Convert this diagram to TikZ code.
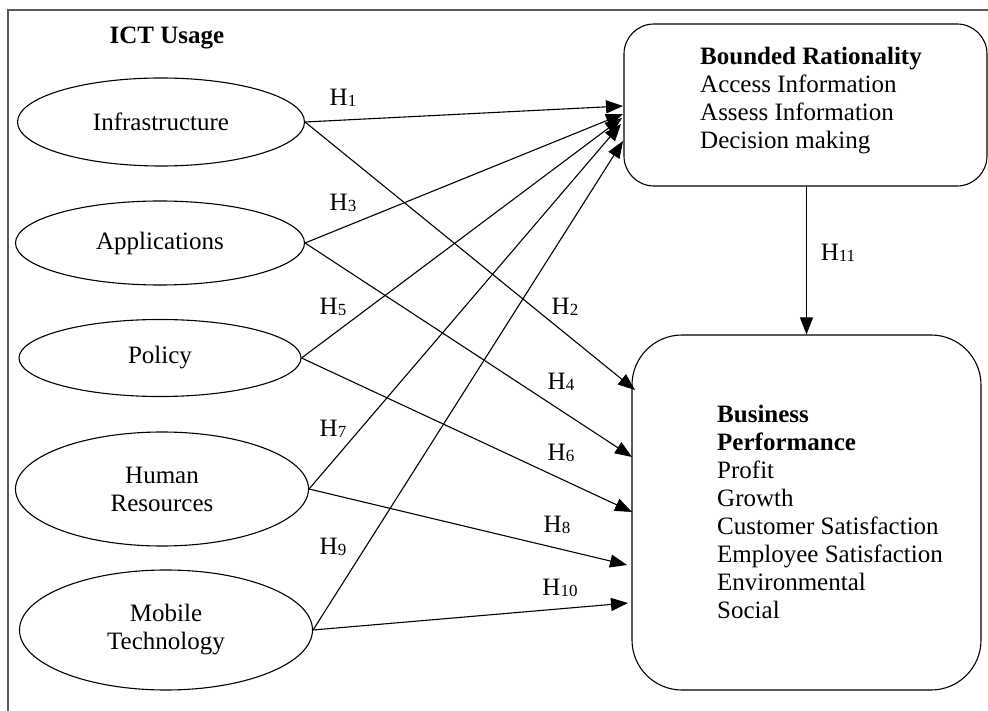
\documentclass[tikz,border=0pt]{standalone}
\usepackage{fontspec}
\setmainfont{Liberation Serif}
\usetikzlibrary{shapes.geometric,arrows.meta,calc}
\newcommand\Hyp[1]{H\raisebox{-1pt}{\fontsize{17}{17}\selectfont #1}}
\begin{document}
\begin{tikzpicture}[x=1pt,y=-1pt,
  every node/.style={font=\fontsize{25}{28}\selectfont, inner sep=0pt},
  ell/.style={draw, ellipse, line width=1.1pt, align=center},
  rbox/.style={draw, rectangle, line width=1.1pt},
  txt/.style={anchor=north west, align=left},
  arr/.style={line width=1.1pt, -{Triangle[length=17pt,width=13pt]}},
  frame/.style={line width=1.8pt, draw=black!65}]
\useasboundingbox (0,0) rectangle (988,711);
\draw[frame] (8,711) -- (8,10) -- (988,10);

\node[anchor=base, font=\fontsize{25}{28}\selectfont\bfseries] (ict) at (167,44) {ICT Usage};

\node[ell, minimum width=287pt, minimum height=88pt] (inf) at (161,122) {Infrastructure};
\node[ell, minimum width=289pt, minimum height=84pt] (app) at (160,243) {Applications};
\node[ell, minimum width=282pt, minimum height=77pt] (pol) at (160,358) {Policy};
\node[ell, minimum width=293pt, minimum height=114pt] (hr) at (162,489) {Human\\Resources};
\node[ell, minimum width=293pt, minimum height=120pt] (mob) at (166,630) {Mobile\\Technology};

\node[rbox, rounded corners=30pt, minimum width=363pt, minimum height=162pt] (br) at (805.5,105) {};
\node[txt] (brt) at (700,47) {\textbf{Bounded Rationality}\\Access Information\\Assess Information\\Decision making};

\node[rbox, rounded corners=50pt, minimum width=349pt, minimum height=355pt] (bp) at (806.5,512.5) {};
\node[txt] (bpt) at (717,405) {\textbf{Business}\\\textbf{Performance}\\Profit\\Growth\\Customer Satisfaction\\Employee Satisfaction\\Environmental\\Social};

% arrow targets
\coordinate (t1) at (623,106);
\coordinate (t3) at (623,114);
\coordinate (t5) at (622,118);
\coordinate (t7) at (621,124);
\coordinate (t9) at (623,141);
\coordinate (t2) at (635,390);
\coordinate (t4) at (632,457);
\coordinate (t6) at (632,512);
\coordinate (t8) at (627,565);
\coordinate (t10) at (628,603);

\draw[arr] (inf.east) -- (t1);
\draw[arr] (app.east) -- (t3);
\draw[arr] (pol.east) -- (t5);
\draw[arr] (hr.east) -- (t7);
\draw[arr] (mob.east) -- (t9);
\draw[arr] (inf.east) -- (t2);
\draw[arr] (app.east) -- (t4);
\draw[arr] (pol.east) -- (t6);
\draw[arr] (hr.east) -- (t8);
\draw[arr] (mob.east) -- (t10);
\draw[arr] (br.south -| bp.north) -- (bp.north);

\node (h1) at (343,98) {\Hyp{1}};
\node (h3) at (343,203) {\Hyp{3}};
\node (h5) at (333,307) {\Hyp{5}};
\node (h7) at (333,429) {\Hyp{7}};
\node (h9) at (333,547) {\Hyp{9}};
\node (h2) at (565,307) {\Hyp{2}};
\node (h4) at (561,382) {\Hyp{4}};
\node (h6) at (561,453) {\Hyp{6}};
\node (h8) at (557,525) {\Hyp{8}};
\node (h10) at (560,588) {\Hyp{10}};
\node (h11) at (838,253) {\Hyp{11}};
\end{tikzpicture}
\end{document}
